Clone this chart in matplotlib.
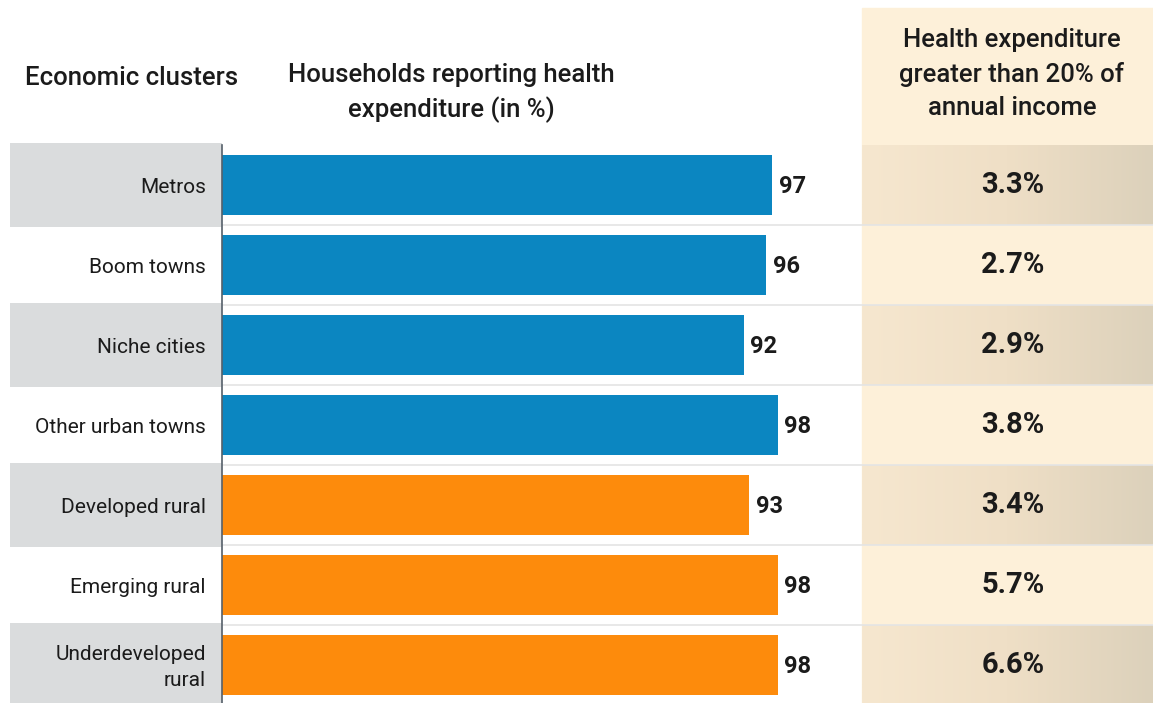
import numpy as np
import matplotlib.pyplot as plt
from matplotlib.colors import LinearSegmentedColormap

clusters = ["Metros", "Boom towns", "Niche cities", "Other urban towns",
            "Developed rural", "Emerging rural", "Underdeveloped\nrural"]
households_pct = [97, 96, 92, 98, 93, 98, 98]
urban = [True, True, True, True, False, False, False]
high_spend_pct = [3.3, 2.7, 2.9, 3.8, 3.4, 5.7, 6.6]

BLUE = "#0b86c1"
ORANGE = "#fd8b0c"
INK = "#1b1b1b"

plt.rcParams["font.family"] = ["Roboto", "DejaVu Sans"]

W, H = 1153, 703
fig = plt.figure(figsize=(W / 100, H / 100), dpi=100)
fig.patch.set_facecolor("white")

# one axes over the whole canvas; x in percent (0 at the bar baseline), y in rows
px = 5.67          # pixels per percentage point
x0 = 222           # baseline pixel
ax = fig.add_axes([0, 0, 1, 1])
ax.set_xlim(-x0 / px, (W - x0) / px)
ax.set_ylim((H - 185) / 80, -185 / 80)
ax.axis("off")

def xpix(p):
    return (p - x0) / px

n = len(clusters)
rows = np.arange(n)

# beige column on the right
col_l, col_r = xpix(862), xpix(W)
ax.axvspan(col_l, col_r, ymax=1 - 8 / H, color="#fdf0d9", zorder=0)

# shaded alternate rows
grad = np.linspace(0, 1, 256).reshape(1, -1)
shade = LinearSegmentedColormap.from_list("shade", ["#f6e7cf", "#efdfc6", "#dcd1bb"])
for i in rows[::2]:
    ax.fill_between([xpix(10), 0], i - 0.52, i + 0.52, color="#dadcdd", lw=0, zorder=1)
    ax.imshow(grad, cmap=shade, aspect="auto", zorder=1,
              extent=[col_l, col_r, i + 0.5, i - 0.5])

# faint row separators
for i in rows[:-1]:
    ax.plot([0, col_r], [i + 0.5, i + 0.5], color="#e4e4e4", lw=1.2, zorder=2)

ax.plot([0, 0], [-0.5, n], color="#55606a", lw=1.2, zorder=4)

colors = [BLUE if u else ORANGE for u in urban]
ax.barh(rows, households_pct, height=0.75, color=colors, zorder=3)

for i, (name, v, s) in enumerate(zip(clusters, households_pct, high_spend_pct)):
    ax.text(xpix(206), i + 0.03, name, ha="right", va="center", fontsize=15,
            color=INK, linespacing=1.45, zorder=5)
    ax.text(v + 1.2, i + 0.02, f"{v}", ha="left", va="center", fontsize=17,
            fontweight="bold", color=INK, zorder=5)
    ax.text(xpix(1013), i, f"{s}%", ha="center", va="center", fontsize=21,
            fontweight="bold", color=INK, zorder=5)

# column headings
head = dict(fontsize=18.5, fontweight="medium", color=INK)
fig.text(25 / W, 1 - 78 / H, "Economic clusters", ha="left", va="center", **head)
fig.text(451 / W, 1 - 93 / H, "Households reporting health\nexpenditure (in %)",
         ha="center", va="center", linespacing=1.45, **head)
fig.text(1012 / W, 1 - 74 / H,
         "Health expenditure\ngreater than 20% of\nannual income",
         ha="center", va="center", linespacing=1.5, **head)

fig.savefig("out.png", dpi=100)
